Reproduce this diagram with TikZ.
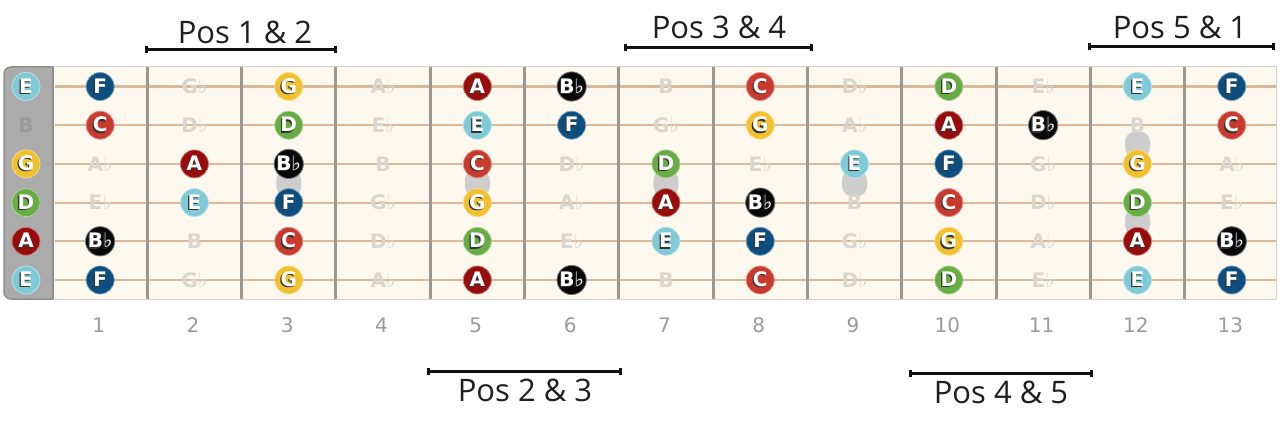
\documentclass[tikz,border=0pt]{standalone}
\usepackage{fontspec}
\setmainfont{Open Sans}
\newfontfamily\notefont{DejaVu Sans}
\usetikzlibrary{arrows.meta}
\definecolor{boardbg}{HTML}{FDF8EE}
\definecolor{boardedge}{HTML}{CFCFCF}
\definecolor{nutgray}{HTML}{ABABAB}
\definecolor{nutedge}{HTML}{8E8E8E}
\definecolor{strc}{HTML}{D9B999}
\definecolor{fretc}{HTML}{9B9893}
\definecolor{blobc}{HTML}{CDCDCD}
\definecolor{fadedc}{HTML}{DAD6CE}
\definecolor{openfaded}{HTML}{9A9A9A}
\definecolor{numc}{HTML}{9A9A9A}
\definecolor{labc}{HTML}{1E1E1E}
\definecolor{barc}{HTML}{111111}
\definecolor{cE}{HTML}{7FCAD6}
\definecolor{cF}{HTML}{0D4E7E}
\definecolor{cG}{HTML}{F0C02E}
\definecolor{cA}{HTML}{980C0C}
\definecolor{cBb}{HTML}{080808}
\definecolor{cC}{HTML}{C83A2E}
\definecolor{cD}{HTML}{68AC44}
\newcommand\notename[1]{\ifcase#1 C\or D♭\or D\or E♭\or E\or F\or G♭\or G\or A♭\or A\or B♭\or B\fi}
\newcommand\notecol[1]{\ifcase#1 cC\or cC\or cD\or cD\or cE\or cF\or cF\or cG\or cG\or cA\or cBb\or cBb\fi}
\newcommand\shd[1]{\makebox[0pt][l]{\kern-1.2pt\raisebox{-1.2pt}{\textcolor{black!80}{#1}}}#1}
\begin{document}
\begin{tikzpicture}[x=1pt,y=-1pt,
  stringline/.style={draw=strc, line width=2.2pt},
  fretline/.style={draw=fretc, line width=3pt},
  blob/.style={rectangle, fill=blobc, rounded corners=10pt, minimum width=25pt, minimum height=26pt, inner sep=0pt, draw=none},
  notecirc/.style={circle, minimum size=28pt, inner sep=0pt, text=white, line width=0.8pt, font={\notefont\bfseries\fontsize{20pt}{20pt}\selectfont}},
  faded/.style={inner sep=0pt, text=fadedc, font={\notefont\bfseries\fontsize{20pt}{20pt}\selectfont}},
  fretnum/.style={inner sep=0pt, text=numc, font={\notefont\fontsize{20pt}{20pt}\selectfont}},
  poslabel/.style={inner sep=0pt, text=labc, font={\fontsize{31pt}{31pt}\selectfont}},
  posbar/.style={draw=barc, line width=3pt, {Bar[width=7pt]}-{Bar[width=7pt]}}
]
\useasboundingbox (0,0) rectangle (1284,433);
% board
\fill[boardbg] (53,67) rectangle (1276,299);
\draw[boardedge, line width=1pt] (53,67) -- (1276,67) -- (1276,299) -- (53,299);
\draw[fill=nutgray, draw=nutedge, line width=1.5pt, rounded corners=7pt] (53,67) -- (4,67) -- (4,299) -- (53,299);
\draw[nutedge, line width=2.5pt] (53,67) -- (53,299);
% strings
\foreach \s in {1,...,6}{
  \pgfmathsetmacro\yy{86.5+38.7*(\s-1)}
  \draw[stringline] (54.5,\yy) -- (1275.5,\yy);
}
% frets
\foreach \f in {1,...,12}{
  \pgfmathsetmacro\xx{53+94.3*\f}
  \draw[fretline] (\xx,67.5) -- (\xx,298.5);
}
% blobs
\node[blob] (bl3) at (288.75,183.25) {};
\node[blob] (bl5) at (477.35,183.25) {};
\node[blob] (bl7) at (665.95,183.25) {};
\node[blob] (bl9) at (854.55,183.25) {};
\node[blob] (bl12a) at (1137.5,144.55) {};
\node[blob] (bl12b) at (1137.5,221.95) {};
% notes
\foreach \s/\o in {1/4,2/11,3/7,4/2,5/9,6/4}{
 \foreach \f in {0,...,13}{
  \pgfmathtruncatemacro\k{mod(\o+\f,12)}
  \pgfmathsetmacro\xx{\f==0 ? 26 : 53+94.3*(\f-0.5)}
  \pgfmathsetmacro\yy{86.5+38.7*(\s-1)}
  \pgfmathtruncatemacro\ins{(\k==0)||(\k==2)||(\k==4)||(\k==5)||(\k==7)||(\k==9)||(\k==10)}
  \edef\nn{\notename{\k}}
  \edef\cc{\notecol{\k}}
  \ifnum\ins=1
    \node[notecirc, fill=\cc, draw=\cc!55!white] (n\s-\f) at (\xx,\yy) {\shd{\nn}};
  \else
    \ifnum\f=0
      \node[faded, text=openfaded] (n\s-\f) at (\xx,\yy) {\nn};
    \else
      \node[faded] (n\s-\f) at (\xx,\yy) {\nn};
    \fi
  \fi
 }
}
% fret numbers
\foreach \f in {1,...,13}{
  \pgfmathsetmacro\xx{53+94.3*(\f-0.5)-1.5}
  \node[fretnum] (fn\f) at (\xx,325) {\f};
}
% position labels
\coordinate (b12a) at (145,50); \coordinate (b12b) at (337,50);
\draw[posbar] (b12a) -- (b12b);
\node[poslabel] (p12) at (245,32) {Pos 1 \& 2};
\coordinate (b34a) at (624,48); \coordinate (b34b) at (813,48);
\draw[posbar] (b34a) -- (b34b);
\node[poslabel] (p34) at (719,27) {Pos 3 \& 4};
\coordinate (b51a) at (1088,47); \coordinate (b51b) at (1275,47);
\draw[posbar] (b51a) -- (b51b);
\node[poslabel] (p51) at (1180,27) {Pos 5 \& 1};
\coordinate (b23a) at (427,371); \coordinate (b23b) at (622,371);
\draw[posbar] (b23a) -- (b23b);
\node[poslabel] (p23) at (525,390) {Pos 2 \& 3};
\coordinate (b45a) at (909,373); \coordinate (b45b) at (1093,373);
\draw[posbar] (b45a) -- (b45b);
\node[poslabel] (p45) at (1001,392.5) {Pos 4 \& 5};
\end{tikzpicture}
\end{document}
